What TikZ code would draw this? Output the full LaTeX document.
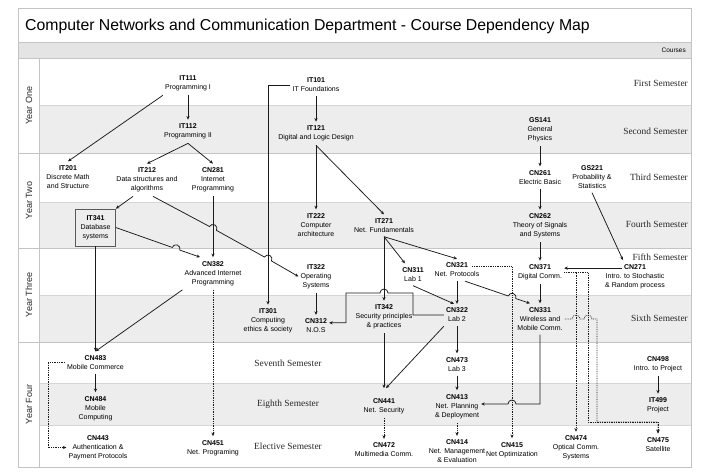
\documentclass[tikz,border=0pt]{standalone}
\usepackage{fontspec}
\setmainfont{Liberation Sans}
\newfontfamily\semfont{Liberation Serif}
\usetikzlibrary{arrows.meta,calc}
\definecolor{band}{HTML}{EDEDED}
\definecolor{hdr}{HTML}{E4E4E4}
\definecolor{rulec}{HTML}{C4C4C4}
\definecolor{edgec}{HTML}{1A1A1A}
\begin{document}
\begin{tikzpicture}[x=1pt,y=-1pt,
 crs/.style={align=center,font=\fontsize{7}{9}\selectfont,inner xsep=2pt,inner ysep=4pt},
 arr/.style={draw=edgec,line width=0.75pt,-{Stealth[length=3.6pt,width=3.2pt]}},
 dotarr/.style={arr,densely dotted},
 semlab/.style={font=\semfont\fontsize{9.4}{11}\selectfont,text=black!85,inner sep=0pt},
 yearlab/.style={font=\fontsize{9}{11}\selectfont,rotate=90,text=black!85,inner sep=0pt},
]
\useasboundingbox (0,0) rectangle (720,474);
\fill[white] (0,0) rectangle (720,474);
% bands
\fill[hdr] (18,42) rectangle (691,58);
\foreach \a/\b in {105/153,202/248,295/342,383/425} {\fill[band] (39,\a) rectangle (691,\b);}
\foreach \yy in {105,202,295,383,425} {\draw[rulec!70,line width=0.4pt] (39,\yy) -- (691,\yy);}
\foreach \yy in {58,153,248,342} {\draw[rulec,line width=0.8pt] (18,\yy) -- (691,\yy);}
\draw[rulec,line width=0.6pt] (18,42) -- (691,42);
\draw[rulec,line width=0.6pt] (39,58) -- (39,467);
\draw[rulec,line width=0.8pt] (18,8) rectangle (691,467);

% title and header
\node[anchor=west,font=\fontsize{15.8}{18}\selectfont,inner sep=0pt] (title) at (25,26) {Computer Networks and Communication Department - Course Dependency Map};
\node[anchor=east,font=\fontsize{6.5}{8}\selectfont,inner sep=0pt] (hdrlab) at (686,50) {Courses};

% year labels
\node[yearlab] (y1) at (29,105.5) {Year One};
\node[yearlab] (y2) at (29,200.5) {Year Two};
\node[yearlab] (y3) at (29,295) {Year Three};
\node[yearlab] (y4) at (29,404.5) {Year Four};

% semester labels
\node[semlab,anchor=east] (s1) at (688,83) {First Semester};
\node[semlab,anchor=east] (s2) at (688,131) {Second Semester};
\node[semlab,anchor=east] (s3) at (688,177) {Third Semester};
\node[semlab,anchor=east] (s4) at (688,224) {Fourth Semester};
\node[semlab,anchor=east] (s5) at (688,257) {Fifth Semester};
\node[semlab,anchor=east] (s6) at (688,318) {Sixth Semester};
\node[semlab] (s7) at (288,363) {Seventh Semester};
\node[semlab] (s8) at (288,404) {Eighth Semester};
\node[semlab] (s9) at (288,446) {Elective Semester};

% courses
\node[crs] (IT111) at (188,83.5) {\textbf{IT111}\\Programming I};
\node[crs] (IT112) at (188,131.5) {\textbf{IT112}\\Programming II};
\node[crs] (IT201) at (68,177) {\textbf{IT201}\\Discrete Math\\and Structure};
\node[crs] (IT212) at (147,180) {\textbf{IT212}\\Data structures and\\algorithms};
\node[crs] (CN281) at (213,180) {\textbf{CN281}\\Internet\\Programming};
\node[crs] (IT101) at (316,85) {\textbf{IT101}\\IT Foundations};
\node[crs] (IT121) at (316,133.5) {\textbf{IT121}\\Digital and Logic Design};
\node[crs] (GS141) at (540,130) {\textbf{GS141}\\General\\Physics};
\node[crs] (CN261) at (540,177.5) {\textbf{CN261}\\Electric Basic};
\node[crs] (GS221) at (592,177) {\textbf{GS221}\\Probability \&\\Statistics};
\node[crs,draw=black!65,line width=0.6pt,inner sep=2pt,minimum width=40pt,minimum height=37pt] (IT341) at (95.5,227.5) {\textbf{IT341}\\Database\\systems};
\node[crs] (IT222) at (316,225) {\textbf{IT222}\\Computer\\architecture};
\node[crs] (IT271) at (384,225.5) {\textbf{IT271}\\Net. Fundamentals};
\node[crs] (CN262) at (540,226) {\textbf{CN262}\\Theory of Signals\\and Systems};
\node[crs] (IT322) at (316,276.5) {\textbf{IT322}\\Operating\\Systems};
\node[crs] (CN382) at (213,273.5) {\textbf{CN382}\\Advanced Internet\\Programming};
\node[crs] (CN311) at (413,274.5) {\textbf{CN311}\\Lab 1};
\node[crs] (CN321) at (457,270) {\textbf{CN321}\\Net. Protocols};
\node[crs] (CN371) at (540,272.5) {\textbf{CN371}\\Digital Comm.};
\node[crs] (CN271) at (635,276.5) {\textbf{CN271}\\Intro. to Stochastic\\\& Random process};
\node[crs] (IT301) at (268,321) {\textbf{IT301}\\Computing\\ethics \& society};
\node[crs] (CN312) at (316,326) {\textbf{CN312}\\N.O.S};
\node[crs] (IT342) at (384,317) {\textbf{IT342}\\Security principles\\\& practices};
\node[crs] (CN322) at (457,315) {\textbf{CN322}\\Lab 2};
\node[crs] (CN331) at (540,319) {\textbf{CN331}\\Wireless and\\Mobile Comm.};
\node[crs] (CN483) at (95.5,362.5) {\textbf{CN483}\\Mobile Commerce};
\node[crs] (CN473) at (457,364.5) {\textbf{CN473}\\Lab 3};
\node[crs] (CN498) at (658,364.5) {\textbf{CN498}\\Intro. to Project};
\node[crs] (CN484) at (95.5,408.5) {\textbf{CN484}\\Mobile\\Computing};
\node[crs] (CN441) at (384,406) {\textbf{CN441}\\Net. Security};
\node[crs] (CN413) at (457,406.5) {\textbf{CN413}\\Net. Planning\\\& Deployment};
\node[crs] (IT499) at (658,405.5) {\textbf{IT499}\\Project};
\node[crs] (CN443) at (98,447.5) {\textbf{CN443}\\Authentication \&\\Payment Protocols};
\node[crs] (CN451) at (213,448) {\textbf{CN451}\\Net. Programing};
\node[crs] (CN472) at (384,450) {\textbf{CN472}\\Multimedia Comm.};
\node[crs] (CN414) at (457,451.5) {\textbf{CN414}\\Net. Management\\\& Evaluation};
\node[crs] (CN415) at (512,450) {\textbf{CN415}\\Net Optimization};
\node[crs] (CN474) at (576,448) {\textbf{CN474}\\Optical Comm.\\Systems};
\node[crs] (CN475) at (658,444.5) {\textbf{CN475}\\Satellite};

% helper coordinates
\coordinate (c271) at ($(CN271.north)+(-13,8)$);
\coordinate (c321) at ($(CN321.north)+(15,8)$);
\coordinate (h5) at (540,404);
\coordinate (b413) at (413,293);
\coordinate (b346) at (346,293);
\coordinate (v588) at (588,422);
\coordinate (v597) at (597,422);
\coordinate (hA) at (572,0);
\coordinate (hB) at (584,0);
\coordinate (l48) at (48,0);

% solid prerequisites
\draw[arr] (IT111) -- (IT112);
\draw[arr] (IT111.south west) -- (IT201.north);
\draw[arr] (IT112.south) -- (IT212.north);
\draw[arr] (IT112.south) -- (CN281.north);
\draw[arr] (IT101.west) -| (IT301.north);
\draw[arr] (IT101) -- (IT121);
\draw[arr] (IT121) -- (IT222);
\draw[arr] (IT121.south) -- (IT271.north);
\draw[arr] (GS141) -- (CN261);
\draw[arr] (CN261) -- (CN262);
\draw[arr] (CN262) -- (CN371);
\draw[arr] (CN371) -- (CN331);
\draw[arr] (GS221.south) -- ($(CN271.north)+(-12,0)$);
\draw[arr] (c271) -- (c271 -| CN371.east);
\draw[arr] ($(IT212.south)+(-14,0)$) -- (IT341.north east);
\draw[arr] ($(IT212.south)+(6,0)$) -- (209.5,226.5) arc[start angle=209.1,end angle=389.1,radius=4]
  -- (264.5,257.05) arc[start angle=209.1,end angle=389.1,radius=4] -- (IT322.west);
\draw[arr] (CN281) -- (CN382);
\draw[arr] (IT341.east) -- (172.23,247.43) arc[start angle=199.36,end angle=379.36,radius=4]
  -- ($(CN382.north)+(-13,0)$);
\draw[arr] (IT341) -- (CN483);
\draw[arr] (CN382.south west) -- (CN483.north);
\draw[arr] (IT271) -- (IT342);
\draw[arr] (IT271.south) -- ($(CN311.north)+(-8,0)$);
\draw[arr] (IT271.south) -- (CN321.north);
\draw[arr] (IT322) -- (CN312);
\draw[arr] (CN321) -- (CN322);
\draw[arr] (CN311.south) -- ($(CN322.north)+(-3,0)$);
\draw[arr] ($(CN321.south)+(8,0)$) -- (508.22,295.96) arc[start angle=199.09,end angle=379.09,radius=4]
  -- ($(CN331.north)+(-10,0)$);
\draw[arr] (CN322.west) -| (b413) -- (388,293) arc[start angle=0,end angle=-180,radius=4]
  -- (b346) |- ($(CN312.north east)+(0,8)$);
\draw[arr] (CN322) -- (CN473);
\draw[arr] (CN473) -- (CN413);
\draw[arr] (CN322.south west) -- ($(CN441.north)+(2,-6)$);
\draw[arr] (IT342) -- ($(CN441.north)+(0,-6)$);
\draw[arr] (CN331.south) -- (h5) -- (516,404) arc[start angle=0,end angle=-180,radius=4] -- (CN413.east |- h5);
\draw[arr] (CN483) -- (CN484);
\draw[arr] (CN498) -- (IT499);

% dotted (elective) links
\draw[dotarr] (CN483.west) -- (CN483.west -| l48) |- (CN443.west);
\draw[dotarr] (CN382) -- (CN451);
\draw[dotarr] (CN441) -- (CN472);
\draw[dotarr] (CN413) -- (CN414);
\draw[dotarr] (c321) -| (CN415.north);
\draw[dotarr] (CN371.east) -| (CN474.north);
\draw[dotarr] (CN371.east) -| (v588) -| (CN475.north);
\draw[dotarr] (CN331.east) -- (CN331.east -| hA) arc[start angle=180,end angle=360,radius=4]
  -- (CN331.east -| hB) arc[start angle=180,end angle=360,radius=4]
  -- (CN331.east -| v597) -- (v597) -| (CN475.north);
\end{tikzpicture}
\end{document}
